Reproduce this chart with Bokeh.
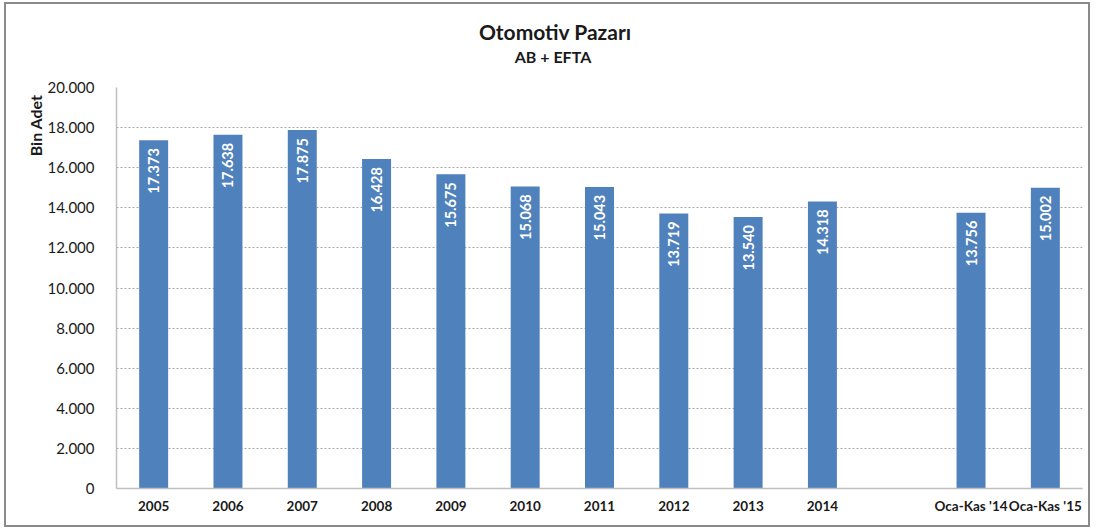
from bokeh.plotting import figure
from bokeh.models import Range1d, FactorRange, FixedTicker, Title, Div, ColumnDataSource
from bokeh.layouts import column
from bokeh.core.properties import value
from bokeh.embed import file_html
from bokeh.resources import INLINE
import math

# ---- data ----
factors = ["2005", "2006", "2007", "2008", "2009", "2010", "2011", "2012", "2013", "2014",
           " ", "Oca-Kas '14", "Oca-Kas '15"]
categories = ["2005", "2006", "2007", "2008", "2009", "2010", "2011", "2012", "2013", "2014",
              "Oca-Kas '14", "Oca-Kas '15"]
values = [17373, 17638, 17875, 16428, 15675, 15068, 15043, 13719, 13540, 14318, 13756, 15002]
y_ticks = [0, 2000, 4000, 6000, 8000, 10000, 12000, 14000, 16000, 18000, 20000]
title_text = "Otomotiv Pazarı"
subtitle_text = "AB + EFTA"

def tr(v):
    return f"{v:,}".replace(",", ".")

labels = [tr(v) for v in values]
src = ColumnDataSource(dict(x=categories, y=values, lab=labels))

FONT = "Lato"

head = Div(width=1082, height=70, margin=0, text=(
    f'<div style="position:relative;width:1082px;height:70px;font-family:{FONT};'
    f'font-weight:bold;color:#1a1a1a;">'
    f'<div style="position:absolute;left:0;top:16px;width:1098px;text-align:center;'
    f'font-size:21px;line-height:24px;">{title_text}</div>'
    f'<div style="position:absolute;left:0;top:43px;width:1094px;text-align:center;'
    f'font-size:16px;line-height:20px;">{subtitle_text}</div></div>'))

p = figure(width=1082, height=451, x_range=FactorRange(*factors), y_range=Range1d(0, 20000),
           output_backend="svg", toolbar_location=None, margin=0,
           min_border_left=110, min_border_right=6, min_border_top=13, min_border_bottom=37)
p.outline_line_color = None
p.background_fill_color = "white"
p.border_fill_color = "white"

p.vbar(x="x", top="y", width=0.39, source=src, fill_color="#4F81BD", line_color=None)

p.text(x="x", y="y", text="lab", source=src, angle=math.pi / 2, text_align="right",
       text_baseline="middle", y_offset=8, text_color="white", text_font=value(FONT),
       text_font_style="bold", text_font_size="14.5px")

ylab = Title(text="Bin Adet", align="right", offset=7, text_font=FONT, text_font_size="16px",
             text_font_style="bold", text_color="#1a1a1a", standoff=0)
p.add_layout(ylab, "left")

# axes
p.yaxis.ticker = FixedTicker(ticks=y_ticks)
p.yaxis.major_label_overrides = {t: tr(t) for t in y_ticks}
p.yaxis.major_label_text_font = FONT
p.yaxis.major_label_text_font_size = "15px"
p.yaxis.major_label_text_color = "#1a1a1a"
p.yaxis.major_label_standoff = 16
p.yaxis.major_tick_line_color = None
p.yaxis.minor_tick_line_color = None
p.yaxis.axis_line_color = "#bfbfbf"
p.yaxis.axis_line_width = 1.5

p.xaxis.major_label_text_font = FONT
p.xaxis.major_label_text_font_style = "bold"
p.xaxis.major_label_text_font_size = "13.5px"
p.xaxis.major_label_text_color = "#1a1a1a"
p.xaxis.major_label_standoff = 3
p.xaxis.major_tick_line_color = None
p.xaxis.minor_tick_line_color = None
p.xaxis.axis_line_color = "#bfbfbf"
p.xaxis.axis_line_width = 1.5

p.xgrid.grid_line_color = None
p.ygrid.grid_line_color = "#a6a6a6"
p.ygrid.grid_line_dash = "2 2"
p.ygrid.grid_line_width = 1

layout = column(head, p, spacing=0)
layout.styles = {"border": "2px solid #8a8a8a", "margin-left": "4px", "margin-top": "2px",
                 "background-color": "white"}

open("out.html", "w").write(file_html(layout, INLINE))
